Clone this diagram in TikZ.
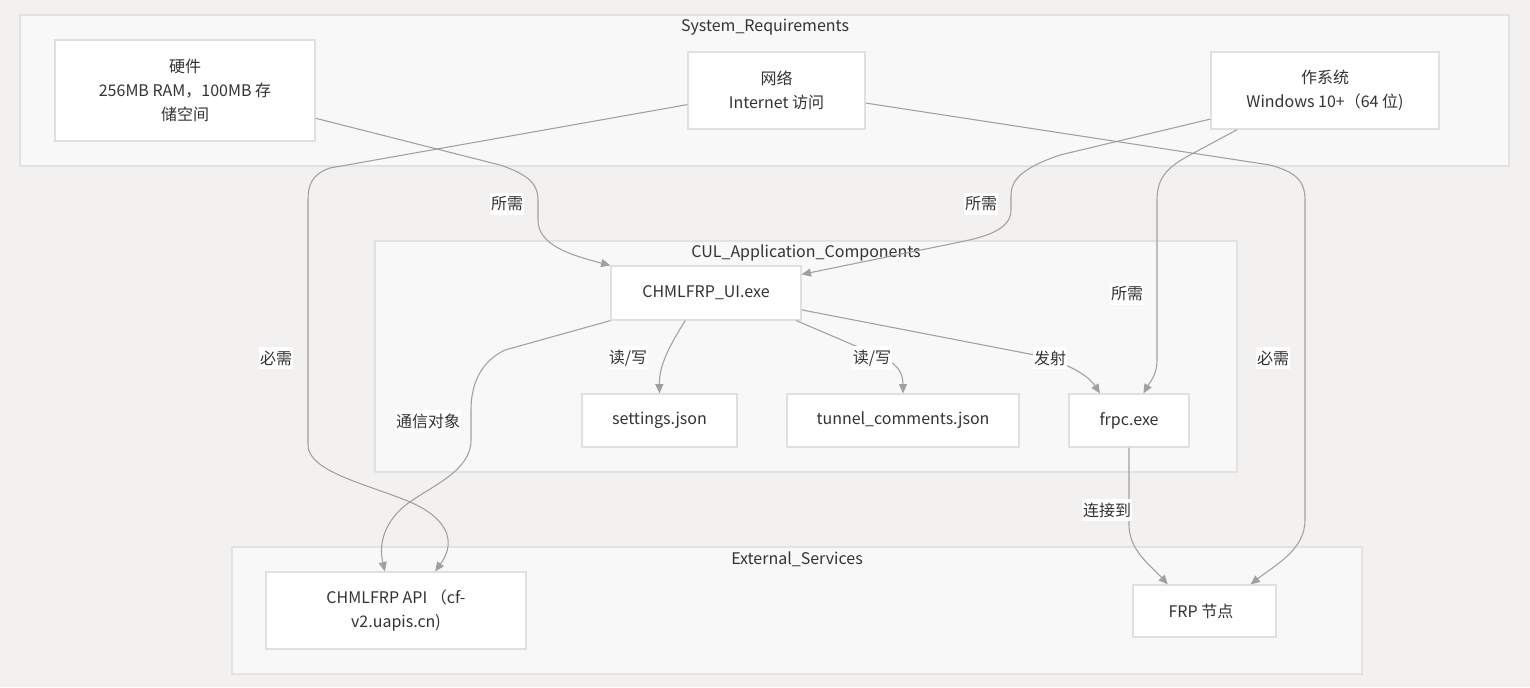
\documentclass[tikz,border=0pt]{standalone}
\usepackage{fontspec}
\setmainfont{Noto Sans CJK SC}
\usetikzlibrary{arrows.meta}

\definecolor{bgcol}{RGB}{242,241,240}
\definecolor{clfill}{RGB}{248,248,248}
\definecolor{clline}{RGB}{226,226,226}
\definecolor{boxline}{RGB}{224,224,224}
\definecolor{edgecol}{RGB}{160,160,160}
\definecolor{txtcol}{RGB}{51,51,51}

\tikzset{
	cluster/.style={draw=clline, fill=clfill, line width=0.9pt},
	title/.style={text=txtcol, inner sep=0pt},
	box/.style={draw=boxline, fill=white, line width=0.9pt, text=txtcol,
		align=center, inner sep=0pt},
	lbl/.style={fill=white, text=txtcol, inner xsep=0.5pt, inner ysep=3pt},
	link/.style={draw=edgecol, line width=0.8pt,
		-{Triangle[length=7pt,width=6pt]}},
}

\begin{document}
\begin{tikzpicture}[x=0.75pt, y=-0.75pt, font=\fontsize{12pt}{18pt}\selectfont]
	\fill[bgcol] (0,0) rectangle (1530,687);
	\useasboundingbox (0,0) rectangle (1530,687);

	% clusters
	\draw[cluster] (20,15) rectangle (1509,166);
	\draw[cluster] (375,241) rectangle (1237,472);
	\draw[cluster] (232,547) rectangle (1362,674);
	\node[title] (sysT) at (765,27) {System\_Requirements};
	\node[title] (appT) at (806,253) {CUL\_Application\_Components};
	\node[title] (extT) at (797,559) {External\_Services};

	% system requirements
	\node[box, minimum width=195pt, minimum height=75.75pt] (hw) at (185,90.5)
		{硬件\\256MB RAM，100MB 存\\储空间};
	\node[box, minimum width=132.75pt, minimum height=57.75pt] (net) at (776.5,90.5)
		{网络\\Internet 访问};
	\node[box, minimum width=171pt, minimum height=57.75pt] (os) at (1325,90.5)
		{作系统\\Windows 10+（64 位)};

	% application components
	\node[box, minimum width=142.5pt, minimum height=40.5pt] (ui) at (706,293) {CHMLFRP\_UI.exe};
	\node[box, minimum width=116.25pt, minimum height=39.75pt] (settings) at (659.5,420.5) {settings.json};
	\node[box, minimum width=174pt, minimum height=39.75pt] (tunnel) at (903,420.5) {tunnel\_comments.json};
	\node[box, minimum width=90pt, minimum height=39.75pt] (frpc) at (1129,420.5) {frpc.exe};

	% external services
	\node[box, minimum width=195pt, minimum height=57.75pt] (api) at (396,610.5)
		{CHMLFRP API （cf-\\v2.uapis.cn)};
	\node[box, minimum width=107.25pt, minimum height=39pt] (frp) at (1204.5,611) {FRP 节点~~};

	% edges
	\draw[link] (hw.-12) -- (500,165) .. controls (530,175) and (538,185) .. (538,200)
		-- (538,220) .. controls (538,245) and (570,255) .. (ui.north west);
	\draw[link] (net.189) -- (330,168) .. controls (312,174) and (308,185) .. (308,200)
		-- (308,445) .. controls (308,472) and (370,485) .. (410,502)
		.. controls (445,517) and (458,540) .. (api.45);
	\draw[link] (ui.south west) -- (505,350) .. controls (480,362) and (471,385) .. (471,410)
		-- (471,440) .. controls (471,475) and (420,490) .. (400,510)
		.. controls (380,530) and (380,550) .. (api.106);
	\draw[link] (os.194) -- (1060,155) .. controls (1022,168) and (1011,180) .. (1011,195)
		-- (1011,210) .. controls (1011,228) and (990,236) .. (960,242) -- (ui.11);
	\draw[link] (os.204) -- (1190,155) .. controls (1165,168) and (1157,180) .. (1157,200)
		-- (1157,360) .. controls (1157,375) and (1150,382) .. (frpc.62);
	\draw[link] (net.-8) -- (1270,165) .. controls (1295,172) and (1305,180) .. (1305,200)
		-- (1305,520) .. controls (1305,550) and (1275,565) .. (frp.30);
	\draw[link] (frpc.south) -- (1129,525) .. controls (1129,550) and (1150,565) .. (frp.144);
	\draw[link] (ui.233) .. controls (670,345) and (659,365) .. (settings.north);
	\draw[link] (ui.-17.6) -- (865,350) .. controls (895,360) and (903,370) .. (tunnel.north);
	\draw[link] (ui.-10) -- (1040,356) .. controls (1075,366) and (1090,378) .. (frpc.137);

	% edge labels
	\node[lbl] (l1) at (507,204) {所需};
	\node[lbl] (l2) at (981,204) {所需};
	\node[lbl] (l3) at (1127,294) {所需};
	\node[lbl] (l4) at (276,358) {必需};
	\node[lbl] (l5) at (1273,358) {必需};
	\node[lbl] (l6) at (428,421) {通信对象};
	\node[lbl] (l7) at (628,358) {读/写};
	\node[lbl] (l8) at (872,358) {读/写};
	\node[lbl] (l9) at (1050,358) {发射};
	\node[lbl] (l10) at (1107,510) {连接到};
\end{tikzpicture}
\end{document}
